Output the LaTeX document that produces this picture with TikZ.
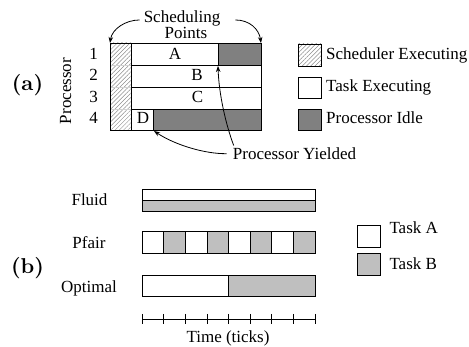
\documentclass[tikz,border=0pt]{standalone}
\usepackage{fontspec}
\newfontfamily\tms{Liberation Serif}
\newfontfamily\lmbx{lmroman10-bold.otf}
\usetikzlibrary{arrows.meta,patterns.meta}
\definecolor{idle}{gray}{0.5}
\definecolor{taskb}{gray}{0.75}
\definecolor{hatch}{gray}{0.55}
\begin{document}
\begin{tikzpicture}[x=1pt,y=-1pt,
  txt/.style={font=\tms\fontsize{17}{20}\selectfont, inner sep=0pt},
  lab/.style={font=\lmbx\fontsize{21.5}{24}\selectfont, inner sep=0pt},
  box/.style={draw=black, line width=0.9pt},
  hatched/.style={pattern={Lines[angle=45,distance=3pt,line width=0.45pt]}, pattern color=hatch},
  arr/.style={-{Stealth[length=6pt,width=4.5pt]}, line width=0.8pt}]
\useasboundingbox (0,0) rectangle (469,347);

% ---------------- (a) ----------------
\node[lab, anchor=base] (la) at (27.5,91) {(a)};
\node[txt, rotate=90, anchor=base] (proc) at (71,91) {Processor};
\node[txt, anchor=base] (n1) at (93.5,59.5) {1};
\node[txt, anchor=base] (n2) at (93.5,81) {2};
\node[txt, anchor=base] (n3) at (93.5,102.5) {3};
\node[txt, anchor=base] (n4) at (93.5,124) {4};

\draw[box, fill=white] (131,43) rectangle (218,65);
\draw[box, fill=idle] (218,43) rectangle (261,65);
\draw[box, fill=white] (131,65) rectangle (261,87);
\draw[box, fill=white] (131,87) rectangle (261,109);
\draw[box, fill=white] (131,109) rectangle (153,130);
\draw[box, fill=idle] (153,109) rectangle (261,130);
\draw[hatched] (110,43) rectangle (131,130);
\draw[gray!35, line width=0.6pt] (110,65) -- (131,65) (110,87) -- (131,87) (110,109) -- (131,109);
\draw[box] (110,43) rectangle (131,130);

\node[txt, anchor=base] (cA) at (175,59.5) {A};
\node[txt, anchor=base] (cB) at (197,81) {B};
\node[txt, anchor=base] (cC) at (197.5,102.5) {C};
\node[txt, anchor=base] (cD) at (143,124) {D};

\coordinate (gridTL) at (110,43);
\coordinate (gridTR) at (261,43);
\coordinate (dcorner) at (154,131);
\coordinate (ajunct) at (218,66);

\node[txt, align=center, anchor=north] (sch) at (182,10.8) {Scheduling\\[-4pt]\hspace*{8pt}Points};
\draw[arr] ([xshift=-4pt,yshift=5pt]sch.west) .. controls +(-14,0) and +(2,-14) .. (gridTL);
\draw[arr] ([xshift=15pt,yshift=5pt]sch.east) .. controls +(14,0) and +(-2,-14) .. (gridTR);

\node[txt, anchor=base west] (py) at (232.7,159.5) {Processor Yielded};
\draw[arr] ([xshift=-6pt]py.west) .. controls (205,154) and (175,145) .. (dcorner);
\draw[arr] ([xshift=1pt,yshift=2pt]py.north west) .. controls (226,125) and (219,95) .. (ajunct);

% legend (a)
\draw[hatched] (298,44) rectangle (321,66);
\draw[box] (298,44) rectangle (321,66);
\draw[box, fill=white] (298,77) rectangle (321,98);
\draw[box, fill=idle] (298,109) rectangle (321,130);
\node[txt, anchor=base west] (l1) at (326,59.5) {Scheduler Executing};
\node[txt, anchor=base west] (l2) at (326,92) {Task Executing};
\node[txt, anchor=base west] (l3) at (326,124) {Processor Idle};

% ---------------- (b) ----------------
\node[lab, anchor=base] (lb) at (27.5,273.5) {(b)};
\node[txt, anchor=base] (fl) at (89.5,205.7) {Fluid};
\node[txt, anchor=base] (pf) at (89,249) {Pfair};
\node[txt, anchor=base] (op) at (89,292.3) {Optimal};

% fluid
\draw[box, fill=white] (142.3,189) rectangle (315,200);
\draw[box, fill=taskb] (142.3,200) rectangle (315,211);
% pfair
\foreach \k in {0,...,7} {
  \pgfmathsetmacro{\xa}{142.3+21.5875*\k}
  \pgfmathsetmacro{\xb}{142.3+21.5875*(\k+1)}
  \pgfmathparse{mod(\k,2)==0 ? 1 : 0}
  \ifnum\pgfmathresult=1
    \draw[box, fill=white] (\xa,231.7) rectangle (\xb,253.3);
  \else
    \draw[box, fill=taskb] (\xa,231.7) rectangle (\xb,253.3);
  \fi
}
% optimal
\draw[box, fill=white] (142.3,275) rectangle (228.6,296.7);
\draw[box, fill=taskb] (228.6,275) rectangle (315,296.7);

% time axis
\coordinate (t0) at (142.3,319);
\coordinate (t8) at (315,319);
\draw[line width=0.9pt] (t0) -- (t8);
\foreach \k in {0,...,8} {
  \draw[line width=0.9pt] (142.3+21.5875*\k,314) -- (142.3+21.5875*\k,324);
}
\node[txt, anchor=base] (time) at (228,343) {Time (ticks)};

% legend (b)
\draw[box, fill=white] (357.7,225) rectangle (380,247.3);
\draw[box, fill=taskb] (357.7,253) rectangle (380,275);
\node[txt, anchor=base west] (ta) at (389.3,234) {Task A};
\node[txt, anchor=base west] (tb) at (389.3,270) {Task B};
\end{tikzpicture}
\end{document}
